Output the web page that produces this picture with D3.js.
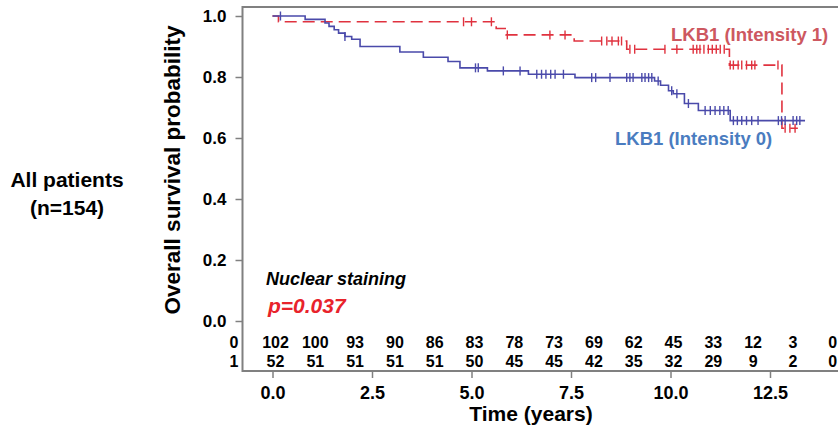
<!DOCTYPE html>
<html>
<head>
<meta charset="utf-8">
<title>Overall survival - LKB1 nuclear staining</title>
<style>
  body { margin: 0; background: #fff; }
  text { font-family: "Liberation Sans", Arial, sans-serif; font-weight: bold; fill: #000; }
  .frame { stroke: #808080; stroke-width: 2; fill: none; }
  .tick line { stroke: #808080; stroke-width: 1.5; }
  .curve { fill: none; stroke-width: 1.6; }
  .blue { stroke: #4a4aaa; }
  .red { stroke: #e0323f; stroke-dasharray: 12,6; }
  .censor { stroke-width: 1.4; }
</style>
</head>
<body>
<svg width="838" height="434"></svg>
<script src="https://cdn.jsdelivr.net/npm/d3@7"></script>
<script>
// axis ticks
var xTicks = [0, 2.5, 5, 7.5, 10, 12.5];
var yTicks = [0, 0.2, 0.4, 0.6, 0.8, 1.0];

// LKB1 (Intensity 0): step times / survival after the step
var blueTimes = [0, 0.82, 1.32, 1.42, 1.55, 1.66, 1.82, 1.99, 2.2, 3.2, 3.79, 4.41, 4.71, 5.4, 6.43, 7.6, 9.6, 9.75, 9.95, 10.07, 10.35, 10.7, 11.5];
var blueSurv  = [1.0, 0.989, 0.977, 0.966, 0.955, 0.944, 0.933, 0.924, 0.900, 0.882, 0.865, 0.851, 0.830, 0.820, 0.809, 0.798, 0.787, 0.773, 0.755, 0.745, 0.713, 0.690, 0.657];
var blueEnd = 13.38;
var blueCensor = [0.2, 1.82, 5.1, 5.17, 5.8, 6.22, 6.64, 6.76, 6.87, 6.99, 7.1, 7.31, 8.02, 8.12, 8.48, 8.9, 8.98, 9.06, 9.28, 9.36, 9.45, 9.53, 9.69, 10.03, 10.16, 10.45, 10.87, 11.0, 11.12, 11.24, 11.34, 11.45, 11.58, 11.68, 11.79, 11.91, 12.04, 12.2, 12.71, 12.79, 12.88, 13.08, 13.17, 13.25];

// LKB1 (Intensity 1)
var redTimes = [0, 0.15, 5.62, 5.87, 7.58, 8.9, 11.48, 12.8];
var redSurv  = [1.0, 0.981, 0.959, 0.938, 0.918, 0.891, 0.839, 0.632];
var redEnd = 13.2;
var redCensor = [4.8, 5.0, 5.5, 5.9, 6.97, 7.35, 8.27, 8.4, 8.53, 8.69, 8.77, 8.98, 9.1, 9.86, 10.16, 10.57, 10.66, 10.74, 10.84, 10.95, 11.05, 11.15, 11.25, 11.35, 11.5, 11.58, 11.7, 11.79, 11.91, 12.04, 12.12, 12.7, 12.88, 13.0, 13.13];

// numbers at risk
var riskYears = [0, 1, 2, 3, 4, 5, 6, 7, 8, 9, 10, 11, 12, 13, 14];
var risk0 = [102, 100, 93, 90, 86, 83, 78, 73, 69, 62, 45, 33, 12, 3, 0];
var risk1 = [52, 51, 51, 51, 51, 50, 45, 45, 42, 35, 32, 29, 9, 2, 0];

var svg = d3.select("svg");

var x = d3.scaleLinear().domain([0, 12.5]).range([272.5, 770]);
var y = d3.scaleLinear().domain([0, 1]).range([321, 16]);

var frameL = 242.5, frameT = 7, frameB = 371, frameR = 838;

// frame
svg.append("path").attr("class", "frame")
  .attr("d", "M" + frameR + "," + frameT + "H" + frameL + "V" + frameB + "H" + frameR);

// y axis
var yAxis = svg.append("g").attr("transform", "translate(" + frameL + ",0)")
  .call(d3.axisLeft(y).tickValues(yTicks).tickFormat(d3.format(".1f")).tickSize(7).tickPadding(9));
yAxis.select(".domain").remove();
yAxis.selectAll("text").style("font-size", "17px").style("font-family", null);

// x axis
var xAxis = svg.append("g").attr("transform", "translate(0," + frameB + ")")
  .call(d3.axisBottom(x).tickValues(xTicks).tickFormat(d3.format(".1f")).tickSize(7).tickPadding(8));
xAxis.select(".domain").remove();
xAxis.selectAll("text").style("font-size", "18px").style("font-family", null);

// survival curves
function stepPoints(times, surv, end) {
  var pts = times.map(function(t, i) { return [t, surv[i]]; });
  pts.push([end, surv[surv.length - 1]]);
  return pts;
}
function survAt(times, surv, t) {
  var i = d3.bisectRight(times, t) - 1;
  return surv[Math.max(0, i)];
}
var line = d3.line().curve(d3.curveStepAfter)
  .x(function(d) { return x(d[0]); })
  .y(function(d) { return y(d[1]); });

function drawGroup(times, surv, end, censor, cls, color) {
  svg.append("path").attr("class", "curve " + cls)
    .attr("d", line(stepPoints(times, surv, end)));
  svg.append("g").selectAll("line").data(censor).join("line")
    .attr("class", "censor")
    .attr("stroke", color)
    .attr("x1", function(d) { return x(d); })
    .attr("x2", function(d) { return x(d); })
    .attr("y1", function(d) { return y(survAt(times, surv, d)) - 4.5; })
    .attr("y2", function(d) { return y(survAt(times, surv, d)) + 4.5; });
}
drawGroup(redTimes, redSurv, redEnd, redCensor, "red", "#e0323f");
drawGroup(blueTimes, blueSurv, blueEnd, blueCensor, "blue", "#4a4aaa");

// curve labels
svg.append("text").attr("x", 671).attr("y", 41).style("font-size", "18.5px")
  .style("fill", "#cd5860").text("LKB1 (Intensity 1)");
svg.append("text").attr("x", 615).attr("y", 145).style("font-size", "18.5px")
  .style("fill", "#4a7cc0").text("LKB1 (Intensity 0)");

// annotation
svg.append("text").attr("x", 266).attr("y", 285).style("font-size", "18px")
  .style("font-style", "italic").text("Nuclear staining");
svg.append("text").attr("x", 268).attr("y", 313).style("font-size", "21px")
  .style("font-style", "italic").style("fill", "#e8232b").text("p=0.037");

// numbers at risk
var riskRows = [risk0, risk1];
riskRows.forEach(function(row, r) {
  var yy = 348 + r * 19;
  svg.append("text").attr("x", 234).attr("y", yy).attr("text-anchor", "middle")
    .style("font-size", "16px").text(r);
  svg.append("g").selectAll("text").data(row).join("text")
    .attr("x", function(d, i) { return x(riskYears[i]) + 3; })
    .attr("y", yy)
    .attr("text-anchor", "middle")
    .style("font-size", "16px")
    .text(function(d) { return d; });
});

// axis titles
svg.append("text").attr("transform", "translate(180,170) rotate(-90)")
  .attr("text-anchor", "middle").style("font-size", "22.5px").text("Overall survival probability");
svg.append("text").attr("x", 531).attr("y", 421).attr("text-anchor", "middle")
  .style("font-size", "21px").text("Time (years)");

// group label
svg.append("text").attr("x", 67).attr("y", 187).attr("text-anchor", "middle")
  .style("font-size", "21px").text("All patients");
svg.append("text").attr("x", 67).attr("y", 215).attr("text-anchor", "middle")
  .style("font-size", "21px").text("(n=154)");
</script>
</body>
</html>
